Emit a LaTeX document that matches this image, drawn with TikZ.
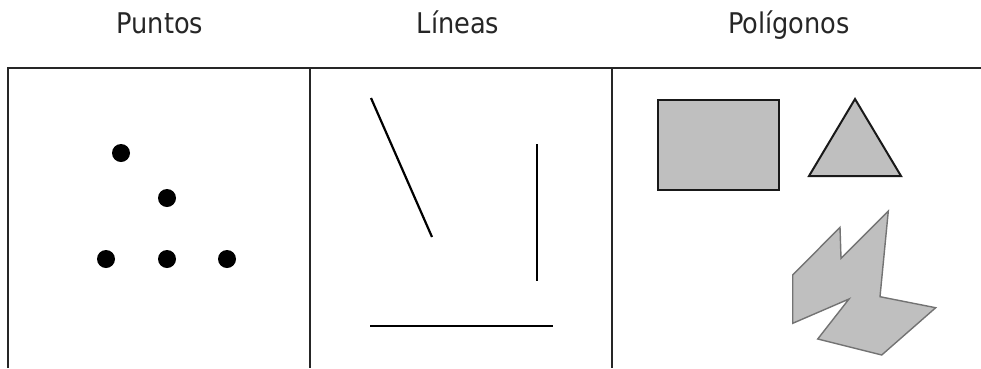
\documentclass[tikz,border=0pt]{standalone}
\usepackage{fontspec}
\setmainfont{DejaVu Sans Condensed}
\begin{document}
\begin{tikzpicture}[x=1pt,y=-1pt,
  title/.style={anchor=base,inner sep=0pt,font=\fontsize{28.5}{30}\selectfont,text=black!85},
  frame/.style={line width=1.6pt,draw=black!85},
  dot/.style={circle,fill=black,inner sep=0pt,minimum size=18pt},
  seg/.style={line width=2.2pt,draw=black},
  solidshape/.style={fill=black!25,draw=black!90,line width=2pt,line join=miter},
  poly/.style={fill=black!25,draw=black!55,line width=1.4pt,line join=miter}]
\useasboundingbox (0,0) rectangle (981,368);
% titles
\node[title] (t1) at (160,33) {Puntos};
\node[title] (t2) at (458,33) {Líneas};
\node[title] (t3) at (789,33) {Polígonos};
% frame
\draw[frame] (8,368) -- (8,68) -- (981,68);
\draw[frame] (310,68) -- (310,368);
\draw[frame] (612,68) -- (612,368);
% dots
\node[dot] (d1) at (121,153) {};
\node[dot] (d2) at (167,198) {};
\node[dot] (d3) at (106,259) {};
\node[dot] (d4) at (167,259) {};
\node[dot] (d5) at (227,259) {};
% lines
\coordinate (l1a) at (371,98);
\coordinate (l1b) at (432,237);
\coordinate (l2a) at (537,144);
\coordinate (l2b) at (537,281);
\coordinate (l3a) at (370,326);
\coordinate (l3b) at (553,326);
\draw[seg] (l1a) -- (l1b);
\draw[seg,line width=1.8pt] (l2a) -- (l2b);
\draw[seg,line width=1.8pt] (l3a) -- (l3b);
% polygons
\draw[solidshape] (658,100) rectangle (779,190);
\draw[solidshape] (855,99) -- (901,176) -- (809,176) -- cycle;
\draw[poly] (792.7,323.3) -- (792.7,275) -- (840,227.3) -- (841,258.3) -- (888.3,211)
  -- (880,296.7) -- (935.7,307.7) -- (881.7,355) -- (817.7,339) -- (849,299) -- cycle;
\end{tikzpicture}
\end{document}
